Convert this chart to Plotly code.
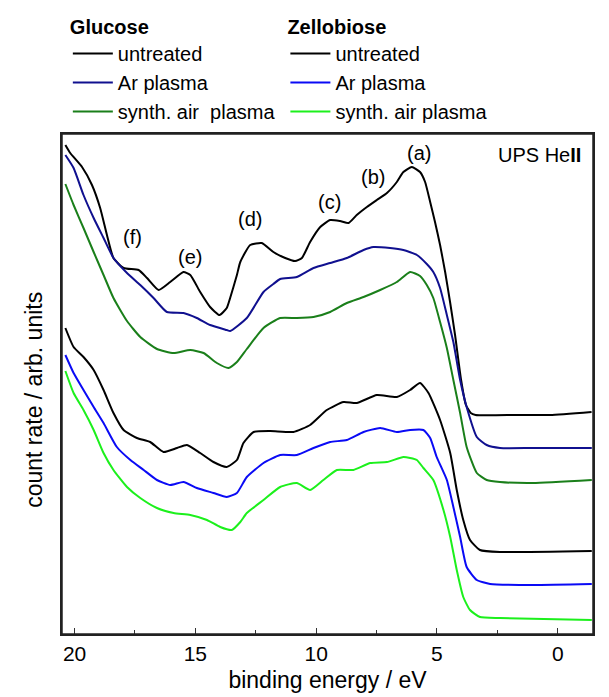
import plotly.graph_objects as go

# ---- data (binding energy in eV, count rate in arb. units) ----
glu_untr_E = [20.38, 20.18, 19.69, 19.28, 18.94, 18.66, 18.39, 17.97, 17.35, 17.0, 16.52, 16.04, 15.49, 15.21,
              14.80, 14.39, 14.0, 13.70, 13.56, 13.28, 13.14, 12.73, 12.25, 11.77, 11.28, 10.87, 10.59, 10.25,
              9.83, 9.42, 9.01, 8.66, 8.32, 7.90, 7.49, 7.07, 6.66, 6.39, 6.04, 5.70, 5.49, 5.28, 5.08, 4.87,
              4.66, 4.45, 4.25, 4.0, 3.8, 3.6, 3.4, 1.70, 0.32, -1.40]
glu_untr_I = [489, 481, 467, 449, 426, 399, 376, 366, 364, 356, 344, 352, 362, 359,
              342, 327, 319, 326, 336, 359, 372, 389, 391, 382, 376, 373, 376, 392,
              407, 414, 413, 411, 419, 427, 434, 441, 452, 462, 467, 462, 452, 432, 412, 389,
              362, 331, 299, 254, 229, 221, 219, 219, 219, 222]

glu_ar_E = [20.38, 20.04, 19.63, 19.21, 18.80, 18.39, 17.83, 17.28, 16.73, 16.18, 15.49, 14.94, 14.39, 13.70,
            13.56, 12.87, 12.18, 11.77, 11.49, 10.80, 10.11, 9.42, 8.73, 8.04, 7.63, 6.94, 6.39, 5.83, 5.42,
            5.15, 4.87, 4.59, 4.32, 4.04, 3.77, 3.35, 2.94, 2.39, 1.02, -1.41]
glu_ar_I = [479, 466, 439, 416, 396, 376, 361, 349, 336, 322, 321, 316, 309, 304,
            303, 316, 342, 350, 355, 357, 366, 371, 376, 384, 387, 386, 384, 379, 370,
            362, 346, 319, 292, 254, 227, 197, 189, 186, 186, 186]

glu_air_E = [20.38, 20.04, 19.63, 19.21, 18.80, 18.39, 17.83, 17.28, 16.59, 15.90, 15.21, 14.66, 14.11, 13.63,
             13.28, 12.87, 12.18, 11.49, 10.80, 10.11, 9.42, 8.73, 8.04, 7.35, 6.66, 6.11, 5.70, 5.42, 5.15,
             4.87, 4.59, 4.32, 4.04, 3.77, 3.35, 2.94, 2.39, 1.02, -1.41]
glu_air_I = [450, 429, 406, 382, 359, 336, 313, 297, 285, 281, 284, 281, 271, 266,
             272, 285, 306, 316, 316, 317, 322, 331, 337, 344, 352, 362, 358, 349, 336,
             312, 286, 254, 221, 187, 161, 154, 152, 151, 154]

zel_untr_E = [20.38, 20.04, 19.63, 19.21, 18.80, 18.39, 17.97, 17.42, 16.87, 16.32, 15.76, 15.35, 14.80, 14.25,
              13.70, 13.28, 13.01, 12.59, 11.90, 10.94, 10.25, 9.56, 8.87, 8.32, 7.49, 6.66, 6.11, 5.70, 5.35,
              4.87, 4.45, 4.18, 3.91, 3.63, 3.22, 2.39, -1.41]
zel_untr_I = [306, 287, 277, 264, 244, 221, 204, 196, 192, 182, 186, 189, 181, 172,
              167, 174, 191, 202, 203, 202, 209, 224, 232, 231, 239, 237, 244, 251, 241,
              214, 181, 144, 114, 94, 84, 82, 83]

zel_ar_E = [20.38, 20.04, 19.63, 19.21, 18.80, 18.25, 17.69, 17.14, 16.59, 16.04, 15.49, 14.94, 14.25, 13.70,
            13.28, 12.87, 12.18, 11.49, 10.80, 10.11, 9.42, 8.73, 8.04, 7.35, 6.66, 6.11, 5.56, 5.28, 5.01,
            4.59, 4.32, 4.04, 3.77, 3.35, 2.80, 1.02, -1.41]
zel_ar_I = [279, 261, 244, 227, 211, 187, 174, 164, 154, 149, 152, 146, 141, 137,
            141, 157, 171, 179, 179, 186, 192, 194, 202, 206, 202, 204, 204, 196, 177,
            154, 127, 97, 67, 54, 50, 49, 50]

zel_air_E = [20.38, 20.04, 19.63, 19.21, 18.80, 18.39, 17.83, 17.28, 16.59, 15.90, 15.21, 14.52, 13.97, 13.49,
             13.14, 12.87, 12.18, 11.49, 10.80, 10.25, 9.70, 9.14, 8.46, 7.76, 7.07, 6.39, 6.11, 5.83, 5.56,
             5.15, 4.73, 4.45, 4.18, 3.91, 3.63, 3.22, 2.39, -1.41]
zel_air_I = [263, 241, 224, 204, 181, 164, 147, 136, 126, 121, 119, 114, 107, 104,
             112, 121, 134, 147, 151, 144, 154, 164, 164, 171, 172, 177, 176, 174, 166,
             154, 124, 97, 64, 37, 24, 17, 16, 14]

peak_labels = ["(a)", "(b)", "(c)", "(d)", "(e)", "(f)"]
peak_E = [5.75, 7.63, 9.46, 12.73, 15.21, 17.61]
peak_I = [481, 457, 432, 415, 377, 397]

x_ticks = [20, 15, 10, 5, 0]

FONT = "Liberation Sans, Arial, sans-serif"

fig = go.Figure()

series = [
    (glu_untr_E, glu_untr_I, "untreated", "#000000", "legend"),
    (glu_ar_E, glu_ar_I, "Ar plasma", "#10108f", "legend"),
    (glu_air_E, glu_air_I, "synth. air  plasma", "#1a7f1a", "legend"),
    (zel_untr_E, zel_untr_I, "untreated", "#000000", "legend2"),
    (zel_ar_E, zel_ar_I, "Ar plasma", "#0a0af5", "legend2"),
    (zel_air_E, zel_air_I, "synth. air plasma", "#1cf01c", "legend2"),
]
for E, I, name, col, lg in series:
    fig.add_trace(go.Scatter(x=E, y=I, mode="lines", name=name, legend=lg,
                             line=dict(color=col, width=2, shape="spline", smoothing=0.5)))

for lab, e, i in zip(peak_labels, peak_E, peak_I):
    fig.add_annotation(x=e, y=i, text=lab, showarrow=False,
                       font=dict(family=FONT, size=20, color="#000"))

fig.add_annotation(xref="paper", yref="paper", x=0.981, y=0.958, xanchor="right", yanchor="middle",
                   text="UPS He<b>II</b>", showarrow=False, font=dict(family=FONT, size=20, color="#000"))

# y-axis title (placed slightly below the plot centre, as in the reference)
fig.add_annotation(xref="paper", yref="paper", x=-0.053, y=0.468, xanchor="center", yanchor="middle",
                   text="count rate / arb. units", textangle=-90, showarrow=False,
                   font=dict(family=FONT, size=23, color="#000"))

# plot frame
fig.add_shape(type="rect", xref="paper", yref="paper", x0=0, y0=0, x1=1, y1=1,
              line=dict(color="#222", width=1.5), layer="above")

axis_line = dict(showline=True, linecolor="#222", linewidth=1.5, mirror=True, showgrid=False, zeroline=False)

# page body has an 8px default margin, so the figure is 8px smaller than the window
fig.update_layout(
    width=601, height=689,
    margin=dict(l=54, r=16, t=126, b=63, autoexpand=False),
    paper_bgcolor="white", plot_bgcolor="white",
    font=dict(family=FONT, size=20, color="#000"),
    xaxis=dict(range=[20.52, -1.46], autorange=False, tickmode="array", tickvals=x_ticks,
               ticks="inside", ticklen=6, tickwidth=1.2, tickcolor="#333",
               minor=dict(tickvals=[17.5, 12.5, 7.5, 2.5], ticks="inside", ticklen=4, tickwidth=1.2, tickcolor="#333"),
               tickfont=dict(size=21), title=dict(text="binding energy / eV", font=dict(size=23), standoff=8),
               **axis_line),
    yaxis=dict(range=[0, 500], autorange=False, showticklabels=False, ticks="", **axis_line),
    legend=dict(x=0.011, xanchor="left", y=1.252, yanchor="top", bgcolor="rgba(0,0,0,0)",
                title=dict(text="<b>Glucose</b>", font=dict(size=20)), font=dict(size=20),
                tracegroupgap=0, itemwidth=40),
    legend2=dict(x=0.4207, xanchor="left", y=1.252, yanchor="top", bgcolor="rgba(0,0,0,0)",
                 title=dict(text="<b>Zellobiose</b>", font=dict(size=20)), font=dict(size=20),
                 tracegroupgap=0, itemwidth=40),
)

fig.write_html("out.html")
